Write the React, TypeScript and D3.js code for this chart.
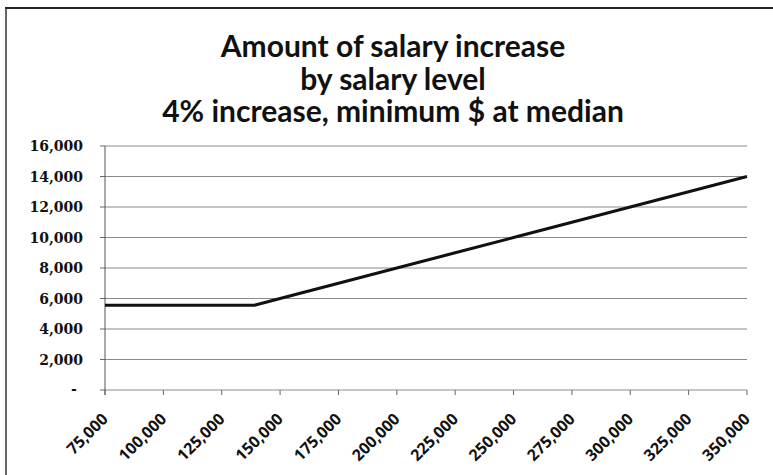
import React from "react";
import * as d3 from "d3";

const titleLines = [
  "Amount of salary increase",
  "by salary level",
  "4% increase, minimum $ at median",
];

const salaries = [
  75000, 100000, 125000, 139000, 150000, 175000, 200000, 225000, 250000,
  275000, 300000, 325000, 350000,
];
const increases = [
  5560, 5560, 5560, 5560, 6000, 7000, 8000, 9000, 10000, 11000, 12000, 13000,
  14000,
];

const xTicks = [
  75000, 100000, 125000, 150000, 175000, 200000, 225000, 250000, 275000,
  300000, 325000, 350000,
];
const yTicks = [0, 2000, 4000, 6000, 8000, 10000, 12000, 14000, 16000];

const W = 773;
const H = 475;
const plot = { left: 105, right: 747, top: 146, bottom: 390 };

export default function App() {
  const x = d3.scaleLinear().domain([75000, 350000]).range([plot.left, plot.right]);
  const y = d3.scaleLinear().domain([0, 16000]).range([plot.bottom, plot.top]);
  const fmt = d3.format(",");
  const line = d3
    .line<number>()
    .x((_, i) => x(salaries[i]))
    .y((d) => y(d));

  return (
    <svg
      width={W}
      height={H}
      style={{ position: "absolute", left: 0, top: 0, background: "#fff" }}
    >
      <rect x={0} y={0} width={W} height={H} fill="#fff" />
      {/* frame */}
      <line x1={5} x2={W} y1={8} y2={8} stroke="#222" strokeWidth={2} />
      <line x1={6} x2={6} y1={8} y2={H} stroke="#333" strokeWidth={1.5} />

      {/* title */}
      {titleLines.map((t, i) => (
        <text
          key={i}
          x={393}
          y={57 + i * 32.5}
          textAnchor="middle"
          fontFamily="Lato, 'Open Sans', sans-serif"
          fontWeight="bold"
          fontSize={30}
          fill="#111"
        >
          {t}
        </text>
      ))}

      {/* gridlines */}
      {yTicks.map((v) => (
        <g key={v}>
          <line
            x1={plot.left}
            x2={plot.right}
            y1={y(v)}
            y2={y(v)}
            stroke="#8a8a8a"
            strokeWidth={1}
          />
          <line
            x1={plot.left - 5}
            x2={plot.left}
            y1={y(v)}
            y2={y(v)}
            stroke="#666"
            strokeWidth={1}
          />
          {v === 0 ? (
            <text
              x={74}
              y={y(v) + 4}
              textAnchor="middle"
              fontFamily="'DejaVu Serif', serif"
              fontWeight="bold"
              fontSize={14}
              fill="#111"
            >
              -
            </text>
          ) : (
            <text
              x={83}
              y={y(v) + 5}
              textAnchor="end"
              fontFamily="'DejaVu Serif', serif"
              fontWeight="bold"
              fontSize={14}
              fill="#111"
            >
              {fmt(v)}
            </text>
          )}
        </g>
      ))}

      {/* y axis */}
      <line
        x1={plot.left}
        x2={plot.left}
        y1={plot.top}
        y2={plot.bottom + 5}
        stroke="#555"
        strokeWidth={1}
      />

      {/* x ticks and labels */}
      {xTicks.map((v) => (
        <g key={v}>
          <line
            x1={x(v)}
            x2={x(v)}
            y1={plot.bottom}
            y2={plot.bottom + 5}
            stroke="#666"
            strokeWidth={1}
          />
          <text
            transform={`translate(${x(v) + 4},${plot.bottom + 30}) rotate(-45)`}
            textAnchor="end"
            fontFamily="'Open Sans', sans-serif"
            fontWeight="bold"
            fontSize={16}
            fill="#111"
          >
            {fmt(v)}
          </text>
        </g>
      ))}

      {/* data line */}
      <path
        d={line(increases) || ""}
        fill="none"
        stroke="#111"
        strokeWidth={3}
        strokeLinejoin="round"
      />
    </svg>
  );
}
